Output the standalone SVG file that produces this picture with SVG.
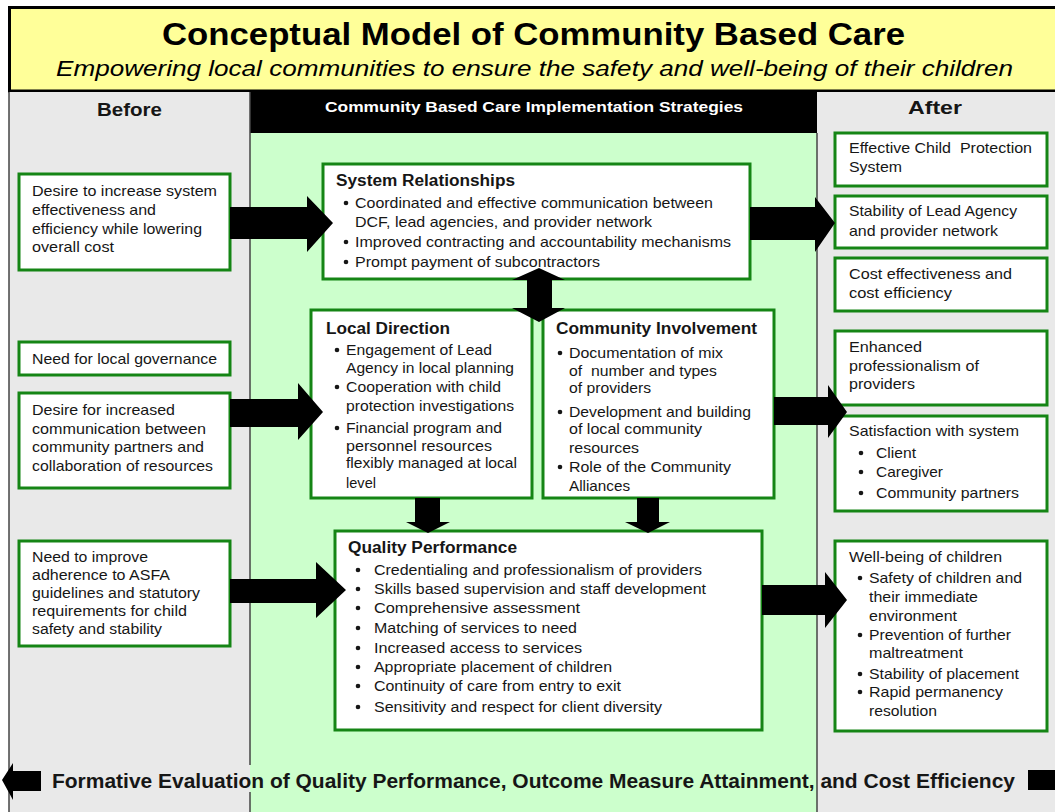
<svg xmlns="http://www.w3.org/2000/svg" width="1055" height="812" viewBox="0 0 1055 812">
<style>
.bg{fill:#ffffff}
.col{fill:#e9e9e9;stroke:none}
.vline{stroke:#444;stroke-width:1.5}
.box{fill:#ffffff;stroke:#158515;stroke-width:3}
.t{font-family:"Liberation Sans",Arial,sans-serif;font-size:15px;fill:#161616}
.n{font-family:"Liberation Sans Narrow","Liberation Sans",Arial,sans-serif;font-size:15.5px;fill:#161616}
.h{font-family:"Liberation Sans",Arial,sans-serif;font-size:16px;font-weight:bold;fill:#161616}
.b{fill:#161616}
.arr{fill:#000000}
</style>
<rect class="bg" x="0" y="0" width="1055" height="812"/>
<g id="title">
<rect x="9.5" y="7.5" width="1050" height="83.5" fill="#ffff99" stroke="#000" stroke-width="3"/>
<text x="162" y="45" textLength="743" lengthAdjust="spacingAndGlyphs" style="font-family:'Liberation Sans',Arial,sans-serif;font-size:31px;font-weight:bold;fill:#000">Conceptual Model of Community Based Care</text>
<text x="56" y="76" textLength="957" lengthAdjust="spacingAndGlyphs" style="font-family:'Liberation Sans',Arial,sans-serif;font-size:22px;font-style:italic;fill:#000">Empowering local communities to ensure the safety and well-being of their children</text>
</g>
<g id="columns">
<rect class="col" x="9" y="92" width="241" height="720"/>
<rect x="250" y="92" width="567" height="41" fill="#000"/>
<rect x="250" y="133" width="567" height="679" fill="#ccffcc"/>
<rect class="col" x="817" y="92" width="238" height="720"/>
<line class="vline" x1="9" y1="92" x2="9" y2="812"/>
<line class="vline" x1="250" y1="92" x2="250" y2="765"/>
<line class="vline" x1="250" y1="792" x2="250" y2="812"/>
<line class="vline" x1="817" y1="133" x2="817" y2="812"/>
<text x="97" y="116" textLength="65" lengthAdjust="spacingAndGlyphs" style="font-family:'Liberation Sans',Arial,sans-serif;font-size:18px;font-weight:bold;fill:#161616">Before</text>
<text x="325" y="112" textLength="418" lengthAdjust="spacingAndGlyphs" style="font-family:'Liberation Sans',Arial,sans-serif;font-size:15px;font-weight:bold;fill:#fff">Community Based Care Implementation Strategies</text>
<text x="908" y="114" textLength="54" lengthAdjust="spacingAndGlyphs" style="font-family:'Liberation Sans',Arial,sans-serif;font-size:18px;font-weight:bold;fill:#161616">After</text>
</g>
<g id="before-1">
<rect class="box" x="19" y="174" width="211" height="96"/>
<text class="t" x="32" y="196" textLength="185" lengthAdjust="spacingAndGlyphs">Desire to increase system</text>
<text class="t" x="32" y="215" textLength="124" lengthAdjust="spacingAndGlyphs">effectiveness and</text>
<text class="t" x="32" y="234" textLength="170" lengthAdjust="spacingAndGlyphs">efficiency while lowering</text>
<text class="t" x="32" y="252" textLength="82" lengthAdjust="spacingAndGlyphs">overall cost</text>
</g>
<g id="before-2">
<rect class="box" x="19" y="342" width="211" height="33"/>
<text class="t" x="32" y="364" textLength="185" lengthAdjust="spacingAndGlyphs">Need for local governance</text>
</g>
<g id="before-3">
<rect class="box" x="19" y="393" width="211" height="95"/>
<text class="t" x="32" y="415" textLength="143" lengthAdjust="spacingAndGlyphs">Desire for increased</text>
<text class="t" x="32" y="434" textLength="174" lengthAdjust="spacingAndGlyphs">communication between</text>
<text class="t" x="32" y="452" textLength="172" lengthAdjust="spacingAndGlyphs">community partners and</text>
<text class="t" x="32" y="471" textLength="181" lengthAdjust="spacingAndGlyphs">collaboration of resources</text>
</g>
<g id="before-4">
<rect class="box" x="19" y="541" width="211" height="105"/>
<text class="n" x="32" y="562" textLength="116" lengthAdjust="spacingAndGlyphs">Need to improve</text>
<text class="n" x="32" y="580" textLength="138" lengthAdjust="spacingAndGlyphs">adherence to ASFA</text>
<text class="n" x="32" y="598" textLength="168" lengthAdjust="spacingAndGlyphs">guidelines and statutory</text>
<text class="n" x="32" y="616" textLength="155" lengthAdjust="spacingAndGlyphs">requirements for child</text>
<text class="n" x="32" y="634" textLength="130" lengthAdjust="spacingAndGlyphs">safety and stability</text>
</g>
<g id="system-relationships">
<rect class="box" x="323" y="164" width="427" height="115"/>
<text class="h" x="336" y="186" textLength="179" lengthAdjust="spacingAndGlyphs">System Relationships</text>
<circle class="b" cx="346" cy="203" r="2.3"/>
<text class="t" x="355" y="208" textLength="358" lengthAdjust="spacingAndGlyphs">Coordinated and effective communication between</text>
<text class="t" x="355" y="227" textLength="297" lengthAdjust="spacingAndGlyphs">DCF, lead agencies, and provider network</text>
<circle class="b" cx="346" cy="242" r="2.3"/>
<text class="t" x="355" y="247" textLength="376" lengthAdjust="spacingAndGlyphs">Improved contracting and accountability mechanisms</text>
<circle class="b" cx="346" cy="262" r="2.3"/>
<text class="t" x="355" y="267" textLength="245" lengthAdjust="spacingAndGlyphs">Prompt payment of subcontractors</text>
</g>
<g id="local-direction">
<rect class="box" x="311" y="310" width="221" height="188"/>
<text class="h" x="326" y="334" textLength="124" lengthAdjust="spacingAndGlyphs">Local Direction</text>
<circle class="b" cx="337" cy="350" r="2.3"/>
<text class="t" x="346" y="355" textLength="146" lengthAdjust="spacingAndGlyphs">Engagement of Lead</text>
<text class="t" x="346" y="373" textLength="168" lengthAdjust="spacingAndGlyphs">Agency in local planning</text>
<circle class="b" cx="337" cy="387" r="2.3"/>
<text class="t" x="346" y="392" textLength="155" lengthAdjust="spacingAndGlyphs">Cooperation with child</text>
<text class="t" x="346" y="411" textLength="168" lengthAdjust="spacingAndGlyphs">protection investigations</text>
<circle class="b" cx="337" cy="428" r="2.3"/>
<text class="t" x="346" y="433" textLength="156" lengthAdjust="spacingAndGlyphs">Financial program and</text>
<text class="t" x="346" y="451" textLength="146" lengthAdjust="spacingAndGlyphs">personnel resources</text>
<text class="t" x="346" y="468" textLength="171" lengthAdjust="spacingAndGlyphs">flexibly managed at local</text>
<text class="t" x="346" y="488" textLength="30" lengthAdjust="spacingAndGlyphs">level</text>
</g>
<g id="community-involvement">
<rect class="box" x="543" y="310" width="231" height="188"/>
<text class="h" x="556" y="334" textLength="201" lengthAdjust="spacingAndGlyphs">Community Involvement</text>
<circle class="b" cx="560" cy="353" r="2.3"/>
<text class="t" x="569" y="358" textLength="154" lengthAdjust="spacingAndGlyphs">Documentation of mix</text>
<text class="t" x="569" y="376" textLength="148" lengthAdjust="spacingAndGlyphs" xml:space="preserve">of  number and types</text>
<text class="t" x="569" y="393" textLength="82" lengthAdjust="spacingAndGlyphs">of providers</text>
<circle class="b" cx="560" cy="412" r="2.3"/>
<text class="t" x="569" y="417" textLength="182" lengthAdjust="spacingAndGlyphs">Development and building</text>
<text class="t" x="569" y="434" textLength="133" lengthAdjust="spacingAndGlyphs">of local community</text>
<text class="t" x="569" y="453" textLength="70" lengthAdjust="spacingAndGlyphs">resources</text>
<circle class="b" cx="560" cy="467" r="2.3"/>
<text class="t" x="569" y="472" textLength="162" lengthAdjust="spacingAndGlyphs">Role of the Community</text>
<text class="t" x="569" y="491" textLength="61" lengthAdjust="spacingAndGlyphs">Alliances</text>
</g>
<g id="quality-performance">
<rect class="box" x="335" y="531" width="427" height="199"/>
<text class="h" x="348" y="553" textLength="169" lengthAdjust="spacingAndGlyphs" style="font-family:'Liberation Sans Narrow','Liberation Sans',Arial,sans-serif">Quality Performance</text>
<circle class="b" cx="358" cy="570" r="2.3"/>
<text class="n" x="374" y="575" textLength="328" lengthAdjust="spacingAndGlyphs">Credentialing and professionalism of providers</text>
<circle class="b" cx="358" cy="589" r="2.3"/>
<text class="n" x="374" y="594" textLength="332" lengthAdjust="spacingAndGlyphs">Skills based supervision and staff development</text>
<circle class="b" cx="358" cy="608" r="2.3"/>
<text class="n" x="374" y="613" textLength="206" lengthAdjust="spacingAndGlyphs">Comprehensive assessment</text>
<circle class="b" cx="358" cy="628" r="2.3"/>
<text class="n" x="374" y="633" textLength="203" lengthAdjust="spacingAndGlyphs">Matching of services to need</text>
<circle class="b" cx="358" cy="648" r="2.3"/>
<text class="n" x="374" y="653" textLength="208" lengthAdjust="spacingAndGlyphs">Increased access to services</text>
<circle class="b" cx="358" cy="667" r="2.3"/>
<text class="n" x="374" y="672" textLength="238" lengthAdjust="spacingAndGlyphs">Appropriate placement of children</text>
<circle class="b" cx="358" cy="686" r="2.3"/>
<text class="n" x="374" y="691" textLength="247" lengthAdjust="spacingAndGlyphs">Continuity of care from entry to exit</text>
<circle class="b" cx="358" cy="707" r="2.3"/>
<text class="n" x="374" y="712" textLength="288" lengthAdjust="spacingAndGlyphs">Sensitivity and respect for client diversity</text>
</g>
<g id="after-1">
<rect class="box" x="835" y="133" width="212" height="53"/>
<text class="t" x="849" y="153" textLength="183" lengthAdjust="spacingAndGlyphs" xml:space="preserve">Effective Child  Protection</text>
<text class="t" x="849" y="172" textLength="53" lengthAdjust="spacingAndGlyphs">System</text>
</g>
<g id="after-2">
<rect class="box" x="835" y="196" width="212" height="52"/>
<text class="t" x="849" y="216" textLength="168" lengthAdjust="spacingAndGlyphs">Stability of Lead Agency</text>
<text class="t" x="849" y="236" textLength="149" lengthAdjust="spacingAndGlyphs">and provider network</text>
</g>
<g id="after-3">
<rect class="box" x="835" y="258" width="212" height="53"/>
<text class="t" x="849" y="279" textLength="163" lengthAdjust="spacingAndGlyphs">Cost effectiveness and</text>
<text class="t" x="849" y="298" textLength="103" lengthAdjust="spacingAndGlyphs">cost efficiency</text>
</g>
<g id="after-4">
<rect class="box" x="835" y="331" width="212" height="74"/>
<text class="t" x="849" y="352" textLength="73" lengthAdjust="spacingAndGlyphs">Enhanced</text>
<text class="t" x="849" y="371" textLength="130" lengthAdjust="spacingAndGlyphs">professionalism of</text>
<text class="t" x="849" y="389" textLength="66" lengthAdjust="spacingAndGlyphs">providers</text>
</g>
<g id="after-5">
<rect class="box" x="835" y="416" width="212" height="95"/>
<text class="t" x="849" y="436" textLength="170" lengthAdjust="spacingAndGlyphs">Satisfaction with system</text>
<circle class="b" cx="861" cy="453" r="2.3"/>
<text class="t" x="876" y="458" textLength="40" lengthAdjust="spacingAndGlyphs">Client</text>
<circle class="b" cx="861" cy="472" r="2.3"/>
<text class="t" x="876" y="477" textLength="67" lengthAdjust="spacingAndGlyphs">Caregiver</text>
<circle class="b" cx="861" cy="493" r="2.3"/>
<text class="t" x="876" y="498" textLength="143" lengthAdjust="spacingAndGlyphs">Community partners</text>
</g>
<g id="after-6">
<rect class="box" x="835" y="541" width="212" height="190"/>
<text class="t" x="849" y="562" textLength="153" lengthAdjust="spacingAndGlyphs" style="font-size:14px">Well-being of children</text>
<circle class="b" cx="860" cy="578" r="2.3"/>
<text class="t" x="869" y="583" textLength="153" lengthAdjust="spacingAndGlyphs">Safety of children and</text>
<text class="t" x="869" y="602" textLength="109" lengthAdjust="spacingAndGlyphs">their immediate</text>
<text class="t" x="869" y="621" textLength="88" lengthAdjust="spacingAndGlyphs">environment</text>
<circle class="b" cx="860" cy="635" r="2.3"/>
<text class="t" x="869" y="640" textLength="142" lengthAdjust="spacingAndGlyphs">Prevention of further</text>
<text class="t" x="869" y="658" textLength="94" lengthAdjust="spacingAndGlyphs">maltreatment</text>
<circle class="b" cx="860" cy="674" r="2.3"/>
<text class="t" x="869" y="679" textLength="150" lengthAdjust="spacingAndGlyphs">Stability of placement</text>
<circle class="b" cx="860" cy="692" r="2.3"/>
<text class="t" x="869" y="697" textLength="134" lengthAdjust="spacingAndGlyphs">Rapid permanency</text>
<text class="t" x="869" y="716" textLength="68" lengthAdjust="spacingAndGlyphs">resolution</text>
</g>
<g id="connectors">
<polygon class="arr" points="230,207 307,207 307,196 333,223 307,252 307,239 230,239"/>
<polygon class="arr" points="230,399 298,399 298,383 323,412 298,440 298,427 230,427"/>
<polygon class="arr" points="230,579 316,579 316,562 346,590 316,618 316,603 230,603"/>
<polygon class="arr" points="750,207 815,207 815,197 835,223 815,252 815,240 750,240"/>
<polygon class="arr" points="774,397 828,397 828,385 847,412 828,438 828,425 774,425"/>
<polygon class="arr" points="762,585 825,585 825,572 847,600 825,628 825,615 762,615"/>
<polygon class="arr" points="539,268 565,280 552,280 552,308 565,308 539,322 512,308 527,308 527,280 512,280"/>
<polygon class="arr" points="415,498 440,498 440,522 450,522 428,533 406,522 415,522"/>
<polygon class="arr" points="637,498 659,498 659,522 670,522 648,533 625,522 637,522"/>
<polygon class="arr" points="2,780 13,763 13,771 41,771 41,791 13,791 13,800"/>
<rect class="arr" x="1028" y="770" width="27" height="20"/>
</g>
<g id="footer">
<text x="52" y="788" textLength="963" lengthAdjust="spacingAndGlyphs" style="font-family:'Liberation Sans',Arial,sans-serif;font-size:20px;font-weight:bold;fill:#161616">Formative Evaluation of Quality Performance, Outcome Measure Attainment, and Cost Efficiency</text>
</g>
</svg>
